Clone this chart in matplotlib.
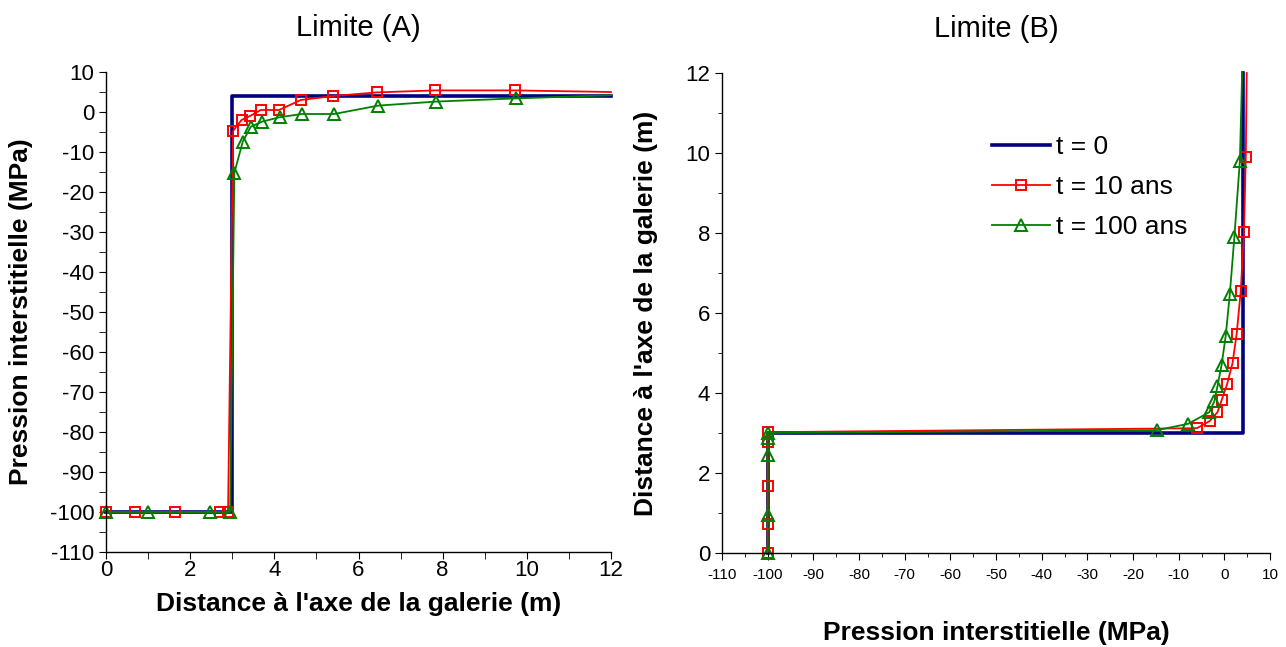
import matplotlib
matplotlib.use("Agg")
import matplotlib.pyplot as plt
from matplotlib.ticker import MultipleLocator

plt.rcParams["font.family"] = ["Liberation Sans", "DejaVu Sans"]
plt.rcParams["axes.unicode_minus"] = False

# Limite (A): distance (m) -> pression (MPa)
a_t0_x = [0, 3, 3, 12]
a_t0_y = [-100, -100, 4, 4]

a_t10_x = [0, 0.7, 1.65, 2.7, 2.9, 3.02, 3.22, 3.42, 3.68, 4.11, 4.63, 5.40, 6.43, 7.81, 9.71, 12]
a_t10_y = [-100, -100, -100, -100, -100, -4.7, -2.0, -1.0, 0.5, 0.5, 3.0, 4.0, 4.9, 5.4, 5.4, 5.0]

a_t100_x = [0, 1.0, 2.47, 2.95, 3.05, 3.25, 3.44, 3.71, 4.13, 4.65, 5.42, 6.47, 7.84, 9.74, 12]
a_t100_y = [-100, -100, -100, -100, -15.2, -7.4, -3.7, -2.4, -1.3, -0.5, -0.5, 1.6, 2.6, 3.4, 4.2]

# Limite (B): pression (MPa) -> distance (m)
b_t0_p = [-100, -100, 4, 4]
b_t0_d = [0, 3, 3, 12]

b_t10_p = [-100, -100, -100, -100, -100, -6.0, -3.2, -1.5, -0.6, 0.6, 1.8, 2.7, 3.6, 4.3, 4.7, 4.9]
b_t10_d = [0, 0.72, 1.67, 2.78, 3.02, 3.12, 3.3, 3.52, 3.82, 4.22, 4.75, 5.48, 6.55, 8.03, 9.9, 12]

b_t100_p = [-100, -100, -100, -100, -100, -14.8, -7.9, -3.3, -2.2, -1.5, -0.6, 0.3, 1.2, 2.2, 3.4, 3.9]
b_t100_d = [0, 0.96, 2.46, 2.88, 3.0, 3.07, 3.23, 3.52, 3.79, 4.17, 4.7, 5.43, 6.47, 7.9, 9.8, 12]

labels = ["t = 0", "t = 10 ans", "t = 100 ans"]

BLUE = "#000080"
RED = "#ff0000"
GREEN = "#008000"

blue_kw = dict(color=BLUE, linewidth=2.6)
red_kw = dict(color=RED, linewidth=1.3, marker="s", markersize=7.5,
              markerfacecolor="none", markeredgecolor=RED, markeredgewidth=1.4)
green_kw = dict(color=GREEN, linewidth=1.3, marker="^", markersize=8.5,
                markerfacecolor="none", markeredgecolor=GREEN, markeredgewidth=1.4)


def marks(values):
    # no marker on the last point (end of the curve at the axis edge)
    return list(range(len(values) - 1))


fig = plt.figure(figsize=(12.86, 6.47), dpi=100)
ax1 = fig.add_axes([106 / 1286, 95 / 647, 505 / 1286, 480 / 647])
ax2 = fig.add_axes([722 / 1286, 94 / 647, 548 / 1286, 480 / 647])

# --- Limite (A)
ax1.plot(a_t0_x, a_t0_y, label=labels[0], **blue_kw)
ax1.plot(a_t10_x, a_t10_y, label=labels[1], markevery=marks(a_t10_x), **red_kw)
ax1.plot(a_t100_x, a_t100_y, label=labels[2], markevery=marks(a_t100_x), **green_kw)
ax1.set_xlim(0, 12)
ax1.set_ylim(-110, 10)
ax1.xaxis.set_major_locator(MultipleLocator(2))
ax1.xaxis.set_minor_locator(MultipleLocator(1))
ax1.yaxis.set_major_locator(MultipleLocator(10))
ax1.yaxis.set_minor_locator(MultipleLocator(5))
ax1.tick_params(axis="both", which="major", labelsize=16, length=5, direction="out")
ax1.tick_params(axis="both", which="minor", length=5, direction="out")
ax1.tick_params(axis="x", pad=1)
ax1.set_xlabel("Distance à l'axe de la galerie (m)", fontsize=19, fontweight="bold", labelpad=8)
ax1.set_ylabel("Pression interstitielle (MPa)", fontsize=19, fontweight="bold", labelpad=12)
ax1.set_title("Limite (A)", fontsize=21, pad=26)

# --- Limite (B)
ax2.plot(b_t0_p, b_t0_d, label=labels[0], **blue_kw)
ax2.plot(b_t10_p, b_t10_d, label=labels[1], markevery=marks(b_t10_p), **red_kw)
ax2.plot(b_t100_p, b_t100_d, label=labels[2], markevery=marks(b_t100_p), **green_kw)
ax2.set_xlim(-110, 10)
ax2.set_ylim(0, 12)
ax2.xaxis.set_major_locator(MultipleLocator(10))
ax2.xaxis.set_minor_locator(MultipleLocator(5))
ax2.yaxis.set_major_locator(MultipleLocator(2))
ax2.yaxis.set_minor_locator(MultipleLocator(1))
ax2.tick_params(axis="y", which="major", labelsize=16, length=5, direction="out")
ax2.tick_params(axis="x", which="major", labelsize=11, length=5, direction="out", pad=6)
ax2.tick_params(axis="both", which="minor", length=3, direction="out")
ax2.set_xlabel("Pression interstitielle (MPa)", fontsize=19, fontweight="bold", labelpad=28)
ax2.set_ylabel("Distance à l'axe de la galerie (m)", fontsize=19, fontweight="bold", labelpad=20)
ax2.set_title("Limite (B)", fontsize=21, pad=26)
ax2.legend(loc="upper left", bbox_to_anchor=(0.45, 0.92), frameon=False, fontsize=19,
           handlelength=2.2, handletextpad=0.2, labelspacing=0.6)

for ax in (ax1, ax2):
    ax.spines["top"].set_visible(False)
    ax.spines["right"].set_visible(False)
    for s in ("left", "bottom"):
        ax.spines[s].set_linewidth(1.0)
    for line in ax.get_lines():
        line.set_clip_on(False)

fig.savefig("out.png", dpi=100)
